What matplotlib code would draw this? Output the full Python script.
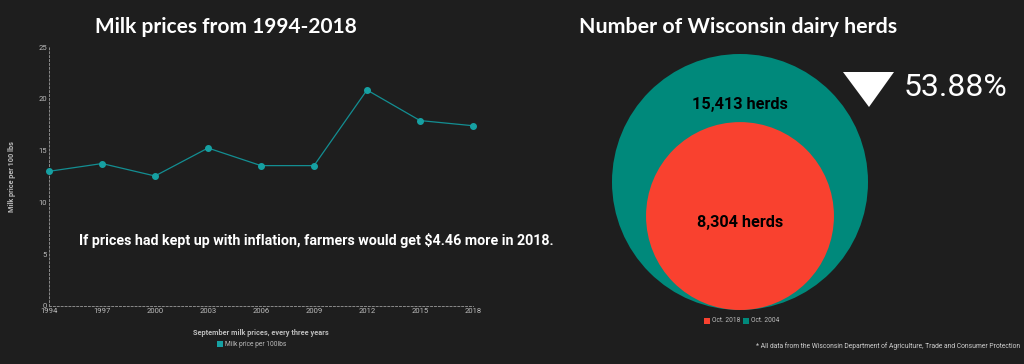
import matplotlib.pyplot as plt
from matplotlib.patches import Circle, Polygon, Rectangle
import numpy as np

# milk prices, September, every three years
years = [1994, 1997, 2000, 2003, 2006, 2009, 2012, 2015, 2018]
prices = [13.0, 13.75, 12.55, 15.25, 13.55, 13.55, 20.85, 17.9, 17.4]

# wisconsin dairy herds
herd_labels = ['Oct. 2004', 'Oct. 2018']
herd_counts = [15413, 8304]
herd_colors = ['#00897b', '#f9412f']

BG = '#1e1e1e'
TEAL = '#16a1a3'
GREY = '#bcbcbc'
W, H = 1024, 364

plt.rcParams['font.family'] = ['Roboto', 'DejaVu Sans']

fig = plt.figure(figsize=(W / 100, H / 100), dpi=100, facecolor=BG)

# overlay in pixel coords for the circles / text
ov = fig.add_axes([0, 0, 1, 1])
ov.set_xlim(0, W)
ov.set_ylim(H, 0)
ov.axis('off')
ov.set_facecolor(BG)

ov.text(226, 33, 'Milk prices from 1994-2018', ha='center', va='baseline',
        fontsize=15, fontweight='bold', color='white', family=['Lato', 'DejaVu Sans'])
ov.text(738, 33, 'Number of Wisconsin dairy herds', ha='center', va='baseline',
        fontsize=15.4, fontweight='bold', color='white', family=['Lato', 'DejaVu Sans'])

# nested circles, area ~ count, bottoms touching
k = 128 / np.sqrt(max(herd_counts))
cx, base = 740, 310
for cnt, col in zip(herd_counts, herd_colors):
    r = k * np.sqrt(cnt)
    ov.add_patch(Circle((cx, base - r), r, color=col, lw=0))

ov.text(cx, 104, f'{herd_counts[0]:,} herds', ha='center', va='center',
        fontsize=11.7, fontweight='bold', color='black')
ov.text(cx, 222, f'{herd_counts[1]:,} herds', ha='center', va='center',
        fontsize=11.7, fontweight='bold', color='black')

# ratio indicator
pct = herd_counts[1] / herd_counts[0] * 100
ov.add_patch(Polygon([(843, 72), (894, 72), (869, 107)], closed=True, color='white', lw=0))
ov.text(904, 87, f'{pct:.2f}%', ha='left', va='center', fontsize=23,
        fontweight='normal', color='white')

# legend for circles
lx = 704
for lab, col in [(herd_labels[1], herd_colors[1]), (herd_labels[0], herd_colors[0])]:
    ov.add_patch(Rectangle((lx, 318), 6, 6, color=col, lw=0))
    ov.text(lx + 8, 321, lab, ha='left', va='center', fontsize=4.8, color=GREY)
    lx += 39

ov.text(1020, 346, '* All data from the Wisconsin Department of Agriculture, Trade and Consumer Protection',
        ha='right', va='center', fontsize=4.9, color='#d0d0d0')

# line chart
ax = fig.add_axes([49 / W, 1 - 306 / H, (473 - 49) / W, (306 - 47) / H])
ax.patch.set_alpha(0)
ax.plot(years, prices, color='#138e92', lw=0.9, marker='o', ms=4,
        mfc=TEAL, mec=TEAL, zorder=3, clip_on=False)
ax.set_xlim(1994, 2018)
ax.set_ylim(0, 25)
ax.set_xticks(years)
ax.set_yticks([0, 5, 10, 15, 20, 25])
ax.tick_params(colors=GREY, labelsize=5.5, length=0, pad=1.5)
for s in ['top', 'right']:
    ax.spines[s].set_visible(False)
for s in ['left', 'bottom']:
    ax.spines[s].set_color('#8a8a8a')
    ax.spines[s].set_linestyle((0, (2, 2)))
    ax.spines[s].set_linewidth(0.7)

ov.text(12, 177, 'Milk price per 100 lbs', rotation=90, ha='center', va='center',
        fontsize=5.2, fontweight='bold', color=GREY)
ov.text(261, 333, 'September milk prices, every three years', ha='center', va='center',
        fontsize=5.3, fontweight='bold', color=GREY)

ax.text(0.07, 0.252, 'If prices had kept up with inflation, farmers would get $4.46 more in 2018.',
        transform=ax.transAxes, ha='left', va='center', fontsize=10.3, fontweight='bold',
        color='white', clip_on=False)

ov.add_patch(Rectangle((217, 341), 6, 6, color=TEAL, lw=0))
ov.text(225, 344, 'Milk price per 100lbs', ha='left', va='center', fontsize=4.8, color=GREY)

fig.savefig('out.png', dpi=100, facecolor=BG)
